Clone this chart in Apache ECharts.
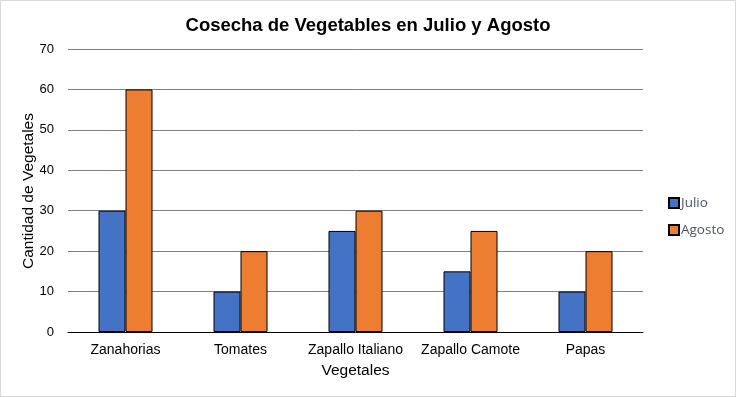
<!DOCTYPE html>
<html>
<head>
<meta charset="utf-8">
<script src="https://cdn.jsdelivr.net/npm/echarts@6/dist/echarts.min.js"></script>
<style>
  html, body { margin: 0; padding: 0; background: #fff; }
  #main { width: 734px; height: 395px; border: 1px solid #d9d9d9; }
</style>
</head>
<body>
<div id="main"></div>
<script>
const categories = ['Zanahorias', 'Tomates', 'Zapallo Italiano', 'Zapallo Camote', 'Papas'];
const julio = [30, 10, 25, 15, 10];
const agosto = [60, 20, 30, 25, 20];

let chart = echarts.init(document.getElementById('main'));
let option = {
  animation: false,
  title: {
    text: 'Cosecha de Vegetables en Julio y Agosto',
    left: 'center',
    top: 10,
    textStyle: { fontFamily: 'Liberation Sans', fontSize: 18.5, fontWeight: 'bold', color: '#000' }
  },
  legend: {
    orient: 'vertical',
    left: 662,
    top: 190,
    itemWidth: 10,
    itemHeight: 10,
    itemGap: 13,
    icon: 'rect',
    textStyle: { fontFamily: 'Open Sans', fontSize: 13.5, color: '#4a5468', padding: [0, 0, 0, -3] },
    data: ['Julio', 'Agosto']
  },
  // y axis title placed by hand, the axis name would not move
  graphic: [{
    type: 'text',
    x: 28,
    y: 190,
    rotation: Math.PI / 2,
    style: {
      text: 'Cantidad de Vegetales',
      fontFamily: 'Liberation Sans',
      fontSize: 15.5,
      fill: '#000',
      align: 'center',
      verticalAlign: 'middle'
    }
  }],
  grid: { left: 67, right: 92, top: 48, bottom: 64 },
  xAxis: {
    type: 'category',
    data: categories,
    name: 'Vegetales',
    nameLocation: 'middle',
    nameGap: 31,
    nameTextStyle: { fontFamily: 'Liberation Sans', fontSize: 15.5, color: '#000' },
    axisLine: { lineStyle: { color: '#000', width: 1 } },
    axisTick: { show: false },
    axisLabel: { interval: 0, fontFamily: 'Liberation Sans', fontSize: 14, color: '#000', margin: 11 }
  },
  yAxis: {
    type: 'value',
    min: 0,
    max: 70,
    interval: 10,
    axisLine: { show: false },
    axisTick: { show: false },
    axisLabel: { fontFamily: 'Liberation Sans', fontSize: 13, color: '#000', margin: 14 },
    splitLine: { lineStyle: { color: '#7f7f7f', width: 1 } }
  },
  series: [
    {
      name: 'Julio',
      type: 'bar',
      data: julio,
      barWidth: 27,
      barGap: '0%',
      itemStyle: { color: '#4472c4', borderColor: '#000', borderWidth: 1 }
    },
    {
      name: 'Agosto',
      type: 'bar',
      data: agosto,
      barWidth: 27,
      barGap: '0%',
      itemStyle: { color: '#ed7d31', borderColor: '#000', borderWidth: 1 }
    }
  ]
};
chart.setOption(option);
</script>
</body>
</html>
